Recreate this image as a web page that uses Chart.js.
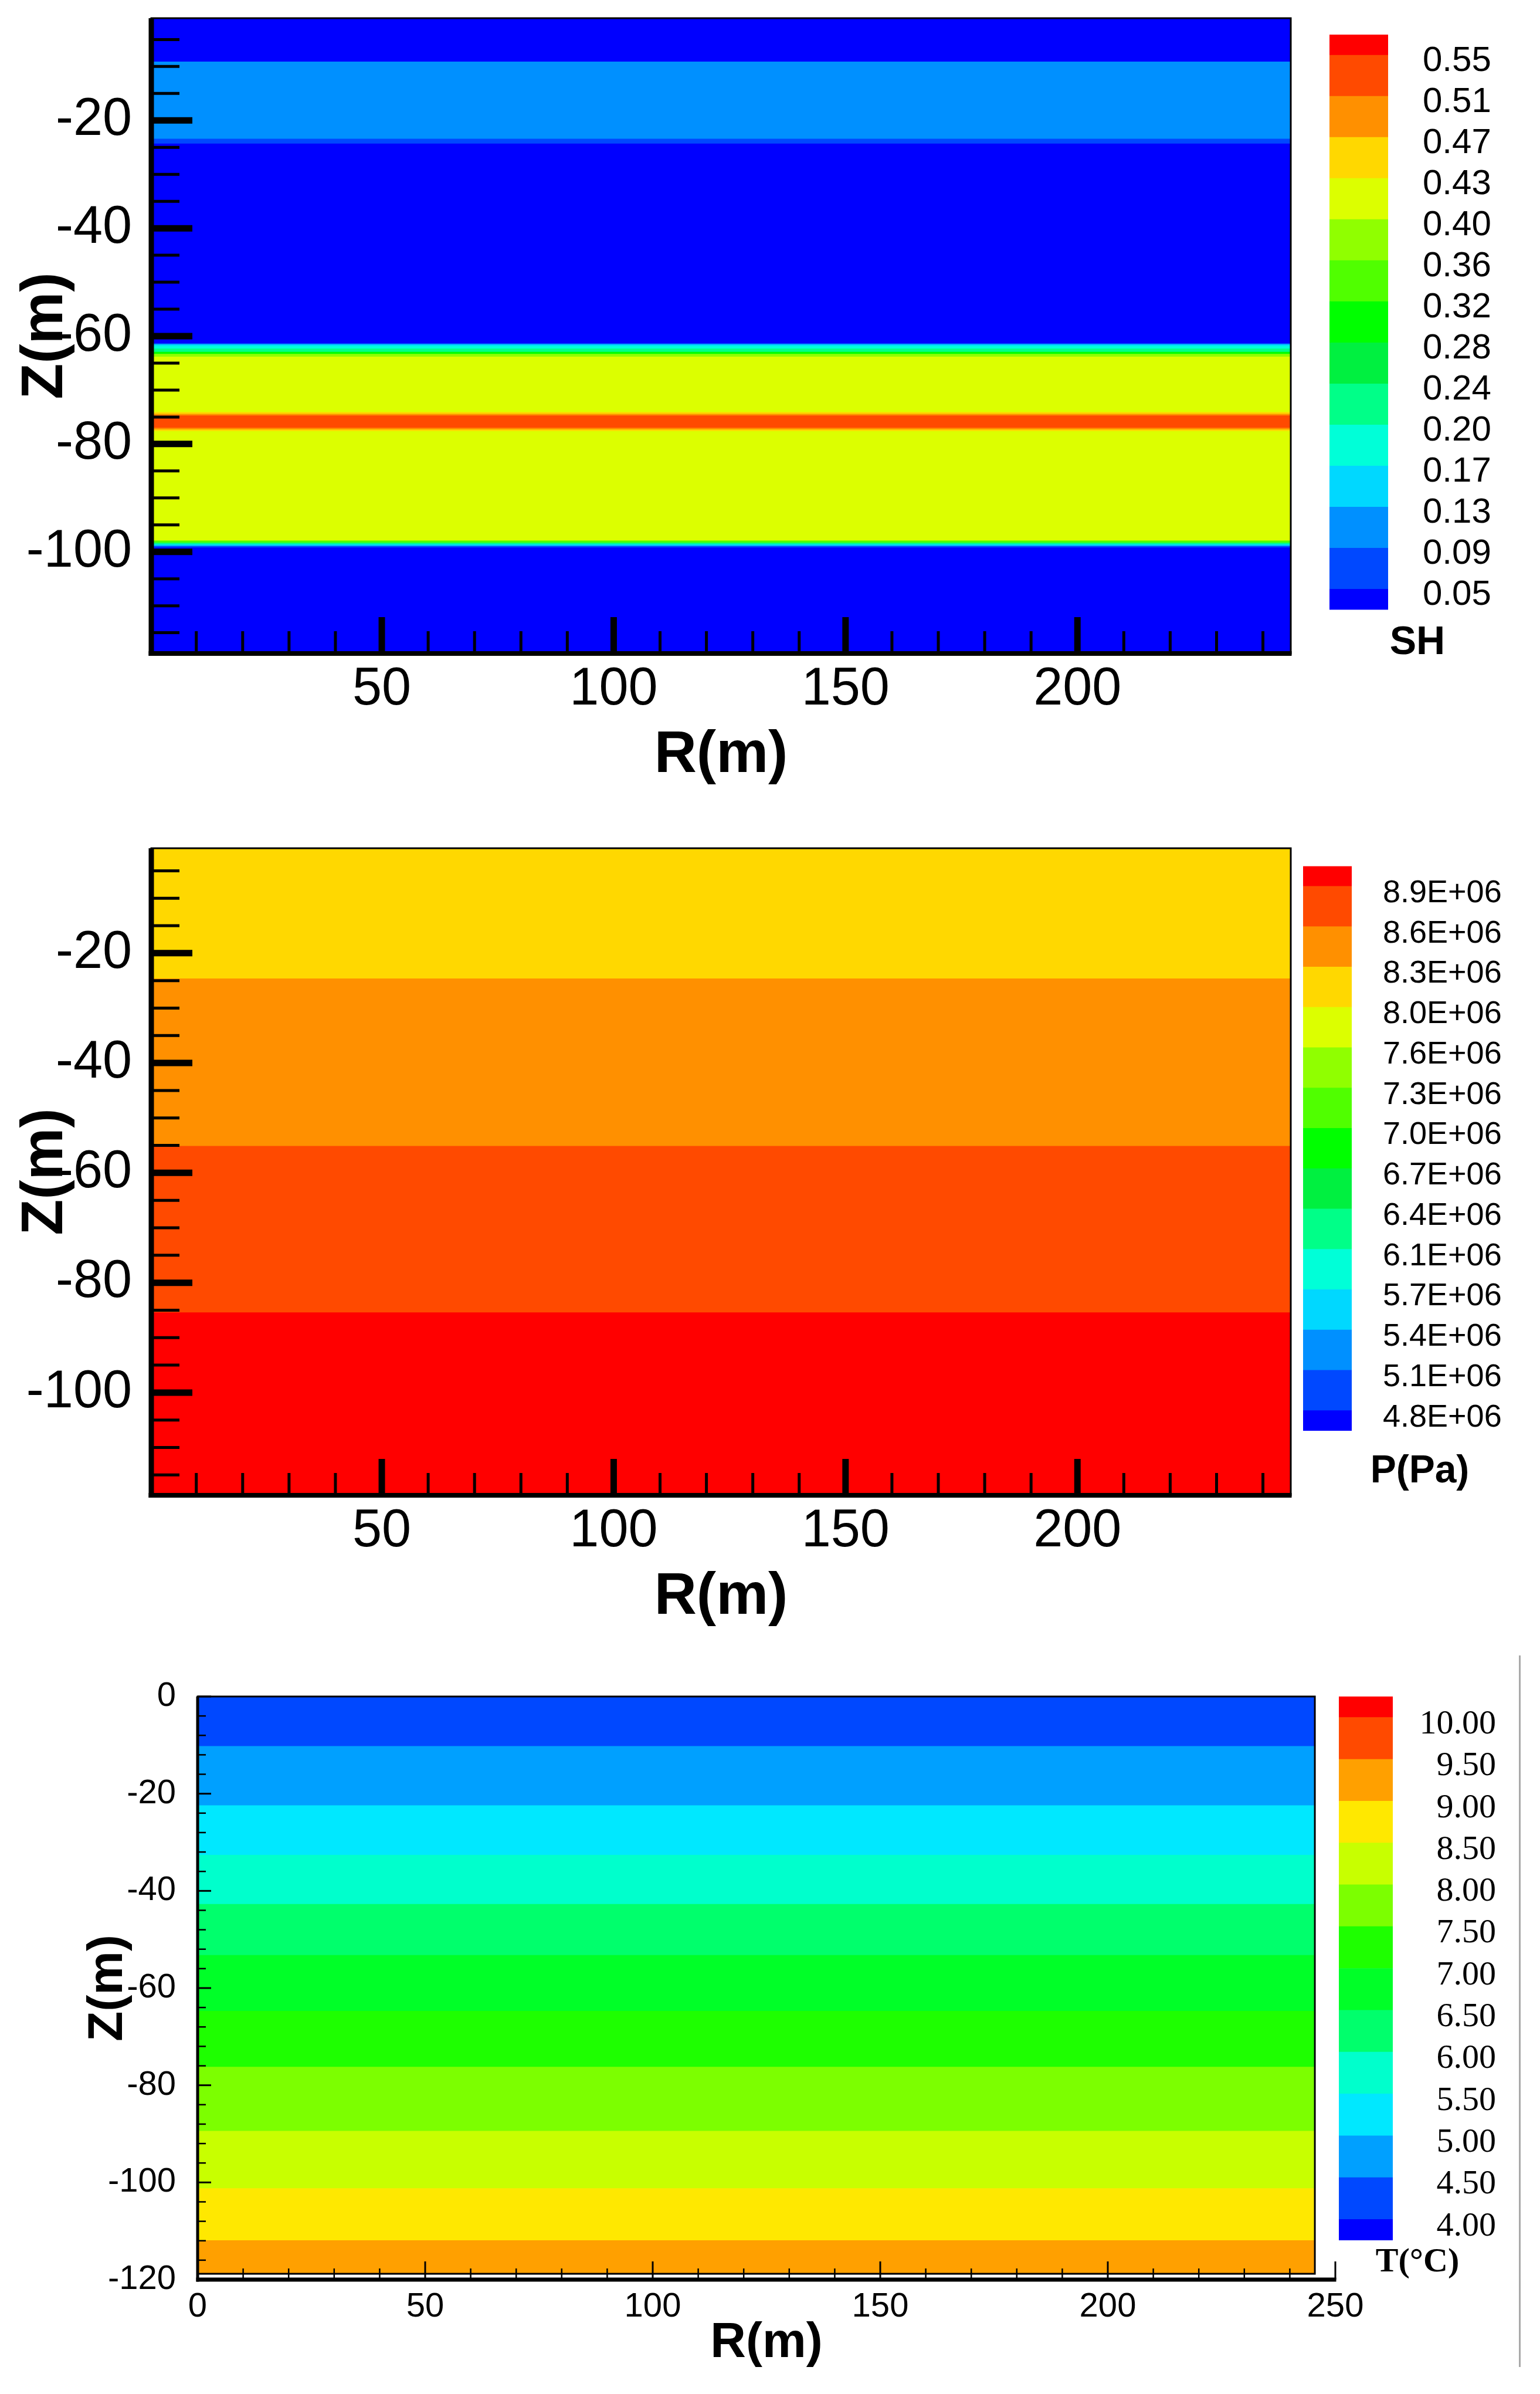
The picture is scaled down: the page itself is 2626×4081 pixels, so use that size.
<!DOCTYPE html>
<html>
<head>
<meta charset="utf-8">
<script src="https://cdn.jsdelivr.net/npm/chart.js@4.4.1/dist/chart.umd.min.js"></script>
<style>
  html, body { margin: 0; padding: 0; background: #fff; }
  body { position: relative; width: 2626px; height: 4081px; overflow: hidden; }
  canvas { position: absolute; }
  #edge { position: absolute; left: 2590px; top: 2822px; width: 3px; height: 1213px; background: #a9a9a9; }
</style>
</head>
<body>
<canvas id="sh" style="left:0px;top:0px" width="2240" height="1400"></canvas>
<canvas id="shBar" style="left:2200px;top:0px" width="420" height="1150"></canvas>
<canvas id="p" style="left:0px;top:1420px" width="2240" height="1420"></canvas>
<canvas id="pBar" style="left:2150px;top:1440px" width="476" height="1120"></canvas>
<canvas id="t" style="left:0px;top:2850px" width="2360" height="1231"></canvas>
<canvas id="tBar" style="left:2200px;top:2850px" width="380" height="1060"></canvas>
<div id="edge"></div>
<script>
// colour classes, lowest level first
const rainbow15 = ['#0000ff', '#0048ff', '#0090ff', '#00d8ff', '#00ffd8', '#00ff88', '#00f040', '#00ff00',
                   '#50ff00', '#90ff00', '#dcff00', '#ffd800', '#ff9000', '#ff4a00', '#ff0000'];
const tempColors = ['#0000ff', '#0048ff', '#00a0ff', '#00e8ff', '#00ffcc', '#00ff6c', '#00ff28', '#1eff00',
                    '#7cff00', '#c8ff00', '#ffe800', '#ffa000', '#ff4a00', '#ff0000'];

// SH : layer boundaries in Z (m) from top to bottom, and colour class of each layer
const shR = [0.3, 246.0];
const shZ = [-118.85, -1.04];
const shEdges = [-1.04, -9.1, -23.4, -24.3, -61.3, -61.5, -61.8, -62.3, -62.9, -63.3, -63.8, -74.1,
                 -74.4, -74.7, -77.0, -77.3, -77.6, -97.9, -98.3, -98.6, -98.9, -99.2, -118.85];
const shBands = [0, 2, 1, 0, 1, 3, 4, 5, 7, 9, 10, 11, 12, 13, 12, 11, 10, 8, 5, 3, 1, 0];
const shLevels = ['0.55', '0.51', '0.47', '0.43', '0.40', '0.36', '0.32', '0.28', '0.24', '0.20',
                  '0.17', '0.13', '0.09', '0.05'];

// pressure
const pR = [0.3, 246.0];
const pZ = [-118.7, -0.9];
const pEdges = [-0.9, -24.6, -55.1, -85.4, -118.7];
const pBands = [11, 12, 13, 14];
const pLevels = ['8.9E+06', '8.6E+06', '8.3E+06', '8.0E+06', '7.6E+06', '7.3E+06', '7.0E+06', '6.7E+06',
                 '6.4E+06', '6.1E+06', '5.7E+06', '5.4E+06', '5.1E+06', '4.8E+06'];

// temperature
const tR = [0, 250];
const tZ = [-120, 0];
const tRegion = [245.5, -118.8];   // right / bottom end of the computed zone
const tEdges = [0, -10.2, -22.4, -32.6, -42.7, -53.2, -64.7, -76.2, -89.4, -101.2, -111.9, -118.8];
const tBands = [1, 2, 3, 4, 5, 6, 7, 8, 9, 10, 11];
const tLevels = ['10.00', '9.50', '9.00', '8.50', '8.00', '7.50', '7.00', '6.50', '6.00', '5.50',
                 '5.00', '4.50', '4.00'];

const sans = "'Liberation Sans', Arial, sans-serif";
const serif = "'Liberation Serif', 'Times New Roman', serif";

function isMajor(v, step) {
    return Math.abs(v / step - Math.round(v / step)) < 1e-6;
}

function tickList(min, max, step) {
    const out = [];
    for (let k = Math.ceil(min / step - 1e-9); k * step <= max + 1e-9; k++) out.push({value: k * step});
    return out;
}

// axis box is fixed by hand, so drop the room chart.js keeps for overhanging end labels
function fixBox(s, size) {
    if (s.isHorizontal()) s.height = size; else s.width = size;
    s.paddingTop = s.paddingBottom = s.paddingLeft = s.paddingRight = 0;
}

// tecplot style axes: ticks pointing inwards, minor and major
const frameTicks = {
    id: 'frameTicks',
    afterDraw(chart, args, o) {
        const {ctx, chartArea: a, scales: {x, y}} = chart;
        const seg = (w, x1, y1, x2, y2) => {
            ctx.lineWidth = w;
            ctx.beginPath(); ctx.moveTo(x1, y1); ctx.lineTo(x2, y2); ctx.stroke();
        };
        ctx.save();
        ctx.strokeStyle = '#000';
        const fr = x.getPixelForValue(o.regionR), fb = y.getPixelForValue(o.regionZ);
        ctx.lineWidth = o.frameW;
        ctx.strokeRect(a.left, a.top, fr - a.left, fb - a.top);
        y.ticks.forEach(t => {
            const py = y.getPixelForValue(t.value), big = isMajor(t.value, o.yMajor);
            seg(big ? o.majorW : o.minorW, a.left, py, a.left + (big ? o.yLen[0] : o.yLen[1]), py);
        });
        x.ticks.forEach(t => {
            const px = x.getPixelForValue(t.value), big = isMajor(t.value, o.xMajor);
            seg(big ? o.majorW : o.minorW, px, a.bottom, px, a.bottom - (big ? o.xLen[0] : o.xLen[1]));
        });
        seg(o.axisW, a.left, a.top, a.left, a.bottom + o.baseW / 2);
        seg(o.baseW, a.left - o.axisW / 2, a.bottom, a.right + o.frameW / 2, a.bottom);
        ctx.restore();
    }
};

function axis(a, title) {
    return {
        type: 'linear', min: a.min, max: a.max,
        grid: {display: false}, border: {display: false},
        afterBuildTicks: s => { s.ticks = tickList(a.min, a.max, a.minor); },
        afterFit: s => fixBox(s, a.size),
        ticks: {
            autoSkip: false, maxRotation: 0, minRotation: 0, padding: a.pad, color: '#000',
            font: {family: sans, size: a.font},
            callback: v => isMajor(v, a.major) ? String(v) : ''
        },
        title: {display: true, text: title, color: '#000', padding: a.titlePad,
                font: {family: sans, size: a.titleSize, weight: 'bold'}}
    };
}

function fieldChart(id, f) {
    const bottom = f.edges[f.edges.length - 1];
    // each layer fills from its top down; lowest layer is dataset 0 so it is painted last
    const sets = f.bands.map((c, i) => ({
        data: [{x: f.r0, y: f.edges[i]}, {x: f.r1, y: f.edges[i]}],
        fill: {value: bottom},
        backgroundColor: f.palette[c],
        borderColor: 'rgba(0,0,0,0)', borderWidth: 0, pointRadius: 0
    })).reverse();
    return new Chart(document.getElementById(id), {
        type: 'line',
        data: {datasets: sets},
        options: {
            responsive: false, animation: false, devicePixelRatio: 1,
            layout: {padding: f.pad},
            plugins: {legend: {display: false}, tooltip: {enabled: false}, frameTicks: f.marks},
            scales: {x: axis(f.x, 'R(m)'), y: axis(f.y, 'Z(m)')}
        },
        plugins: [frameTicks]
    });
}

function colorBar(id, c) {
    const n = c.levels.length;
    const sets = c.colors.map((col, k) => ({
        data: [[k === 0 ? -0.5 : k - 1, k === n ? n - 0.5 : k]],
        backgroundColor: col, borderWidth: 0, grouped: false,
        barPercentage: 1, categoryPercentage: 1
    }));
    return new Chart(document.getElementById(id), {
        type: 'bar',
        data: {labels: [''], datasets: sets},
        options: {
            responsive: false, animation: false, devicePixelRatio: 1,
            layout: {padding: c.pad},
            plugins: {
                legend: {display: false}, tooltip: {enabled: false},
                title: {display: true, text: c.title, position: 'bottom', color: '#000',
                        font: c.titleFont, padding: {top: c.titleGap, bottom: 0}}
            },
            scales: {
                x: {display: false},
                y: {
                    position: 'right', min: -0.5, max: n - 0.5,
                    grid: {display: false}, border: {display: false},
                    afterBuildTicks: s => { s.ticks = c.levels.map((_, i) => ({value: i})); },
                    afterFit: s => fixBox(s, c.axisW),
                    ticks: {autoSkip: false, padding: c.labelGap, labelOffset: c.labelOffset,
                            crossAlign: c.align, color: '#000', font: c.font,
                            callback: v => c.levels[n - 1 - v]}
                }
            }
        }
    });
}

const bigMarks = {axisW: 9, baseW: 8, frameW: 3, majorW: 11, minorW: 5,
                  yLen: [70, 48], xLen: [62, 38], yMajor: 20, xMajor: 50};

fieldChart('sh', {
    edges: shEdges, bands: shBands, palette: rainbow15, r0: shR[0], r1: shR[1],
    pad: {left: 0, top: 31, right: 39, bottom: 0},
    marks: Object.assign({regionR: shR[1], regionZ: shZ[0]}, bigMarks),
    x: {min: shR[0], max: shR[1], minor: 10, major: 50, size: 286, pad: 0, font: 90,
        titleSize: 100, titlePad: {top: 0, bottom: 52}},
    y: {min: shZ[0], max: shZ[1], minor: 5, major: 20, size: 258, pad: 25, font: 90,
        titleSize: 100, titlePad: {top: 18, bottom: 0}}
});

fieldChart('p', {
    edges: pEdges, bands: pBands, palette: rainbow15, r0: pR[0], r1: pR[1],
    pad: {left: 0, top: 26, right: 39, bottom: 0},
    marks: Object.assign({regionR: pR[1], regionZ: pZ[0]}, bigMarks),
    x: {min: pR[0], max: pR[1], minor: 10, major: 50, size: 291, pad: 0, font: 90,
        titleSize: 100, titlePad: {top: 0, bottom: 57}},
    y: {min: pZ[0], max: pZ[1], minor: 5, major: 20, size: 258, pad: 25, font: 90,
        titleSize: 100, titlePad: {top: 18, bottom: 0}}
});

fieldChart('t', {
    edges: tEdges, bands: tBands, palette: tempColors, r0: tR[0], r1: tRegion[0],
    pad: {left: 0, top: 42, right: 83, bottom: 0},
    marks: {regionR: tRegion[0], regionZ: tRegion[1], axisW: 5, baseW: 7, frameW: 3,
            majorW: 3, minorW: 2.5, yLen: [23, 14], xLen: [31, 19], yMajor: 20, xMajor: 50},
    x: {min: tR[0], max: tR[1], minor: 10, major: 50, size: 195, pad: 4, font: 58,
        titleSize: 84, titlePad: {top: 0, bottom: 35.6}},
    y: {min: tZ[0], max: tZ[1], minor: 4, major: 20, size: 337, pad: 29, font: 58,
        titleSize: 84, titlePad: {top: 134, bottom: 0}}
});

colorBar('shBar', {
    levels: shLevels, colors: rainbow15, title: 'SH',
    pad: {left: 67, top: 59, right: 53, bottom: 13}, axisW: 200, labelGap: 51, labelOffset: 10,
    align: 'near', font: {family: sans, size: 60},
    titleFont: {family: sans, size: 68, weight: 'bold'}, titleGap: 16
});

colorBar('pBar', {
    levels: pLevels, colors: rainbow15, title: 'P(Pa)',
    pad: {left: 72, top: 36.5, right: 6, bottom: 11.4}, axisW: 315, labelGap: 45, labelOffset: 12,
    align: 'near', font: {family: sans, size: 54},
    titleFont: {family: sans, size: 66, weight: 'bold'}, titleGap: 30.4
});

colorBar('tBar', {
    levels: tLevels, colors: tempColors, title: 'T(°C)',
    pad: {left: 83, top: 42, right: 29, bottom: 18.2}, axisW: 176, labelGap: 0, labelOffset: 12,
    align: 'far', font: {family: serif, size: 58},
    titleFont: {family: serif, size: 58}, titleGap: 3.2
});
</script>
</body>
</html>
